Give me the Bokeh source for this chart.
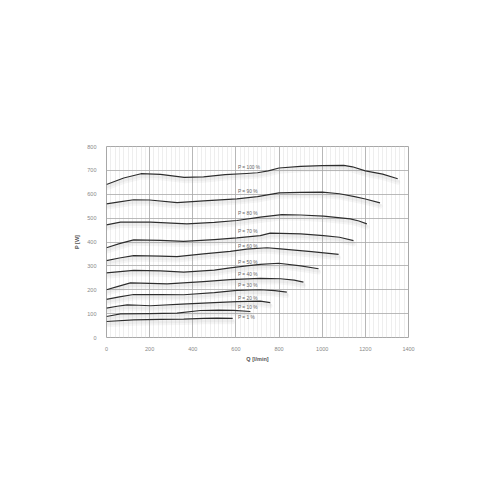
from bokeh.plotting import figure
from bokeh.models import ColumnDataSource, Range1d, FixedTicker
from bokeh.transform import dodge
from bokeh.core.properties import value
from bokeh.embed import file_html
from bokeh.resources import INLINE

# ---- data ----
p100_x = [0, 80, 160, 250, 360, 450, 550, 650, 700, 750, 800, 900, 1000, 1100, 1140, 1200, 1280, 1350]
p100_y = [641, 668, 686, 683, 671, 673, 682, 687, 690, 698, 710, 717, 720, 721, 715, 698, 684, 665]
p90_x = [0, 60, 126, 200, 327, 450, 605, 700, 800, 900, 1000, 1080, 1150, 1200, 1268]
p90_y = [560, 568, 577, 576, 565, 572, 581, 590, 606, 608, 609, 602, 590, 580, 564]
p80_x = [0, 65, 204, 373, 500, 605, 713, 813, 900, 1006, 1130, 1170, 1207]
p80_y = [472, 483, 483, 476, 482, 490, 504, 515, 513, 508, 497, 488, 476]
p70_x = [0, 60, 126, 250, 358, 500, 605, 713, 759, 900, 1006, 1080, 1145]
p70_y = [376, 393, 409, 407, 403, 410, 417, 427, 437, 434, 427, 420, 406]
p60_x = [0, 60, 126, 250, 327, 450, 574, 650, 744, 806, 950, 1076]
p60_y = [322, 333, 343, 341, 339, 350, 361, 370, 376, 371, 360, 348]
p50_x = [0, 126, 250, 358, 500, 574, 650, 713, 798, 900, 983]
p50_y = [271, 281, 279, 274, 282, 292, 300, 306, 311, 300, 288]
p40_x = [0, 50, 111, 200, 281, 450, 574, 713, 806, 870, 913]
p40_y = [200, 213, 229, 227, 225, 234, 242, 248, 246, 240, 232]
p30_x = [0, 60, 126, 250, 358, 500, 605, 713, 780, 836]
p30_y = [160, 170, 180, 180, 179, 188, 197, 200, 196, 190]
p20_x = [0, 50, 96, 150, 204, 350, 500, 605, 713, 759]
p20_y = [123, 131, 137, 135, 133, 140, 146, 150, 152, 146]
p10_x = [0, 65, 200, 327, 435, 520, 590, 667]
p10_y = [88, 99, 100, 102, 113, 115, 114, 109]
p1_x = [0, 126, 250, 358, 450, 512, 585]
p1_y = [67, 74, 76, 77, 80, 81, 80]

series_x = [p100_x, p90_x, p80_x, p70_x, p60_x, p50_x, p40_x, p30_x, p20_x, p10_x, p1_x]
series_y = [p100_y, p90_y, p80_y, p70_y, p60_y, p50_y, p40_y, p30_y, p20_y, p10_y, p1_y]

label_text = ["P = 100 %", "P = 90 %", "P = 80 %", "P = 70 %", "P = 60 %", "P = 50 %",
              "P = 40 %", "P = 30 %", "P = 20 %", "P = 10 %", "P = 1 %"]
label_x = [600, 600, 600, 600, 600, 600, 600, 600, 600, 600, 600]
label_y = [711, 611, 518, 444, 381, 315, 263, 218, 165, 127, 82]

x_ticks = [0, 200, 400, 600, 800, 1000, 1200, 1400]
y_ticks = [0, 100, 200, 300, 400, 500, 600, 700, 800]

FONT = "Liberation Sans"

p = figure(frame_width=302, frame_height=191,
           min_border_left=106, min_border_top=146, min_border_right=70, min_border_bottom=130,
           x_range=Range1d(0, 1400), y_range=Range1d(0, 800),
           output_backend="svg", toolbar_location=None)

p.outline_line_color = "#a8a8a8"
p.outline_line_width = 1
p.background_fill_color = "white"

p.xaxis.ticker = FixedTicker(ticks=x_ticks, minor_ticks=list(range(0, 1401, 20)))
p.yaxis.ticker = FixedTicker(ticks=y_ticks)

for ax in (p.xaxis, p.yaxis):
    ax.axis_line_color = None
    ax.major_tick_line_color = None
    ax.minor_tick_line_color = None
    ax.major_label_text_font = FONT
    ax.major_label_text_font_size = "5.5px"
    ax.major_label_text_color = "#888888"
    ax.axis_label_text_font = FONT
    ax.axis_label_text_font_size = "5.5px"
    ax.axis_label_text_font_style = "bold"
    ax.axis_label_text_color = "#555555"

p.xaxis.major_label_standoff = 3
p.yaxis.major_label_standoff = 4
p.xaxis.axis_label = "Q [l/min]"
p.yaxis.axis_label = "P [W]"
p.xaxis.axis_label_standoff = 2
p.yaxis.axis_label_standoff = 4

p.xgrid.grid_line_color = "#a8a8a8"
p.xgrid.grid_line_width = 0.8
p.xgrid.minor_grid_line_color = "#e2e2e2"
p.xgrid.minor_grid_line_width = 0.6
p.ygrid.grid_line_color = "#a8a8a8"
p.ygrid.grid_line_width = 0.8

for xs, ys in zip(series_x, series_y):
    src = ColumnDataSource(dict(x=xs, y=ys))
    # soft drop shadow
    p.line(x="x", y=dodge("y", -14), source=src, line_color="#a0a0a0", line_alpha=0.09,
           line_width=5, line_join="round", line_cap="round")
    p.line(x="x", y=dodge("y", -10), source=src, line_color="#a0a0a0", line_alpha=0.09,
           line_width=3, line_join="round", line_cap="round")
    p.line(x="x", y="y", source=src, line_color="#2e2e2e", line_width=1.2, line_join="round")

lsrc = ColumnDataSource(dict(x=label_x, y=label_y, t=label_text))
p.text(x="x", y="y", text="t", source=lsrc, x_offset=2,
       text_font=value(FONT), text_font_size="4.8px", text_color="#666666",
       text_baseline="middle", text_align="left")

open("out.html", "w").write(file_html(p, INLINE))
